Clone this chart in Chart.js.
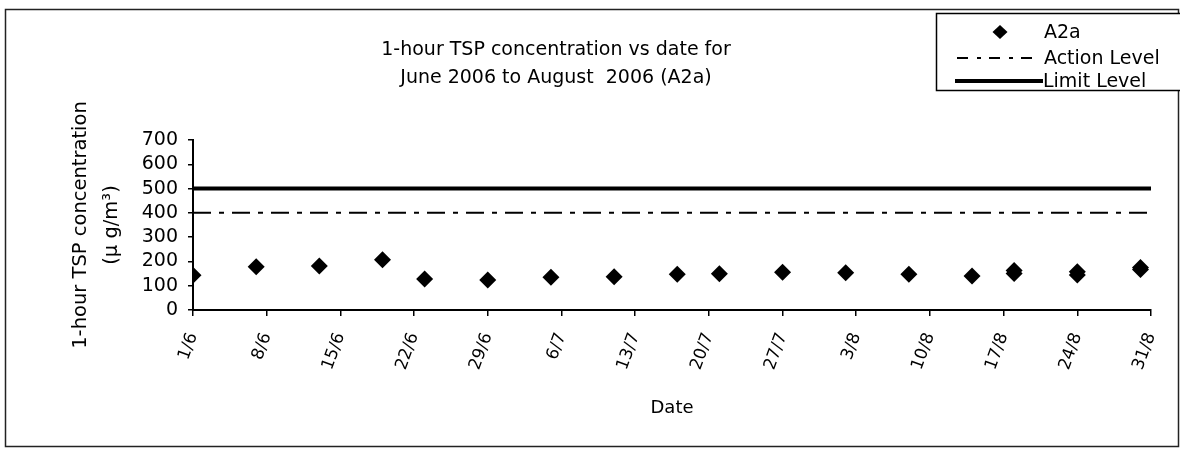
<!DOCTYPE html>
<html><head><meta charset="utf-8">
<script src="https://cdn.jsdelivr.net/npm/chart.js@4.4.0/dist/chart.umd.min.js"></script>
<style>html,body{margin:0;padding:0;background:#fff;} canvas{display:block;}</style>
</head><body>
<canvas id="c" width="1180" height="451"></canvas>
<script>
// ---- data ----
const titleLines = ['1-hour TSP concentration vs date for', 'June 2006 to August  2006 (A2a)'];
const yTitleLines = ['1-hour TSP concentration', '(\u03bc g/m\u00b3)'];
const xTitle = 'Date';
const tickDates = ['1/6','8/6','15/6','22/6','29/6','6/7','13/7','20/7','27/7','3/8','10/8','17/8','24/8','31/8'];
const yMin = 0, yMax = 700, yStep = 100;
const sampleDates = ['1/6','7/6','13/6','19/6','23/6','29/6','5/7','11/7','17/7','21/7','27/7','2/8','8/8','14/8','18/8','18/8','24/8','24/8','30/8','30/8'];
const a2aValues   = [143, 178, 181, 207, 128, 124, 135, 137, 147, 149, 155, 153, 147, 140, 163, 150, 157, 144, 175, 167];
const actionLevel = 400;
const limitLevel = 500;
const levelSpanDates = ['1/6','31/8'];
const seriesNames = ['A2a','Action Level','Limit Level'];

// day number counted from 1 June 2006
function dayIndex(label){
  const [d, m] = label.split('/').map(Number);
  const monthStart = {6: 0, 7: 30, 8: 61};
  return monthStart[m] + d - 1;
}
const tickDays = tickDates.map(dayIndex);

const FONT = 'DejaVu Sans';
const ACTION_DASH = [18, 8, 5, 8];

const a2aData = sampleDates.map((d, i) => ({x: dayIndex(d), y: a2aValues[i]}));
const actionData = levelSpanDates.map(d => ({x: dayIndex(d), y: actionLevel}));
const limitData = levelSpanDates.map(d => ({x: dayIndex(d), y: limitLevel}));

const decor = {
  id: 'decor',
  beforeDraw(chart){
    const ctx = chart.ctx;
    ctx.save();
    ctx.fillStyle = '#fff';
    ctx.fillRect(0, 0, chart.width, chart.height);
    ctx.restore();
  },
  afterDraw(chart){
    const ctx = chart.ctx;
    ctx.save();
    // outer frame
    ctx.strokeStyle = '#222';
    ctx.lineWidth = 1.5;
    ctx.strokeRect(5.5, 9.5, 1173, 437);
    // title
    ctx.fillStyle = '#000';
    ctx.font = '19px "' + FONT + '"';
    ctx.textAlign = 'center';
    ctx.textBaseline = 'alphabetic';
    ctx.fillText(titleLines[0], 556, 55);
    ctx.fillText(titleLines[1], 556, 83);
    // legend
    const lx = 936, ly = 13, lw = 260, lh = 77;
    ctx.fillStyle = '#fff';
    ctx.fillRect(lx, ly, lw, lh);
    ctx.strokeStyle = '#000';
    ctx.lineWidth = 1.5;
    ctx.strokeRect(lx + 0.5, ly + 0.5, lw, lh);
    const ds = chart.data.datasets;
    ctx.fillStyle = '#000';
    ctx.font = '19px "' + FONT + '"';
    ctx.textAlign = 'left';
    ctx.textBaseline = 'middle';
    const r1 = 32, r2 = 58, r3 = 81;
    ctx.beginPath();
    ctx.moveTo(1000 - 7.5, r1); ctx.lineTo(1000, r1 - 7); ctx.lineTo(1000 + 7.5, r1); ctx.lineTo(1000, r1 + 7);
    ctx.closePath(); ctx.fill();
    ctx.fillText(ds[0].label, 1044, r1 + 1);
    ctx.strokeStyle = '#000';
    ctx.lineWidth = 2;
    ctx.setLineDash([11, 9, 4, 8]);
    ctx.beginPath(); ctx.moveTo(957, r2); ctx.lineTo(1040, r2); ctx.stroke();
    ctx.setLineDash([]);
    ctx.fillText(ds[1].label, 1044, r2 + 1);
    ctx.lineWidth = 4;
    ctx.beginPath(); ctx.moveTo(955, r3); ctx.lineTo(1043, r3); ctx.stroke();
    ctx.fillText(ds[2].label, 1043, r3 + 1);
    ctx.restore();
  }
};

new Chart(document.getElementById('c'), {
  type: 'scatter',
  data: {
    datasets: [
      {label: seriesNames[0], data: a2aData, pointStyle: 'rectRot', pointRadius: 8.5, pointHoverRadius: 8.5,
       backgroundColor: '#000', borderColor: '#000', borderWidth: 0, showLine: false},
      {label: seriesNames[1], data: actionData, showLine: true, borderColor: '#000', borderWidth: 2,
       borderDash: ACTION_DASH, pointRadius: 0, fill: false},
      {label: seriesNames[2], data: limitData, showLine: true, borderColor: '#000', borderWidth: 4,
       pointRadius: 0, fill: false}
    ]
  },
  options: {
    responsive: false,
    animation: false,
    devicePixelRatio: 1,
    events: [],
    layout: {padding: {top: 140, right: 29, bottom: 0, left: 0}},
    plugins: {legend: {display: false}, title: {display: false}, tooltip: {enabled: false}},
    scales: {
      x: {
        type: 'linear',
        min: tickDays[0], max: tickDays[tickDays.length - 1],
        afterBuildTicks: s => { s.ticks = tickDays.map(v => ({value: v})); },
        afterFit: s => { s.height = 141; s.paddingLeft = 0; s.paddingRight = 0; },
        ticks: {
          autoSkip: false, minRotation: 70, maxRotation: 70, padding: 14,
          color: '#000', font: {family: FONT, size: 17},
          callback: (v) => { const i = tickDays.indexOf(v); return i >= 0 ? tickDates[i] : ''; }
        },
        grid: {display: true, drawOnChartArea: false, drawTicks: true, tickLength: 6, color: '#000', lineWidth: 1.5},
        border: {display: true, color: '#000', width: 2},
        title: {display: true, text: xTitle, color: '#000', font: {family: FONT, size: 18}, padding: {top: 0, bottom: 32}}
      },
      y: {
        min: yMin, max: yMax,
        afterFit: s => { s.width = 193; s.paddingTop = 0; s.paddingBottom = 0; },
        ticks: {stepSize: yStep, autoSkip: false, padding: 10, color: '#000', font: {family: FONT, size: 19}},
        grid: {display: true, drawOnChartArea: false, drawTicks: true, tickLength: 5, color: '#000', lineWidth: 1.5},
        border: {display: true, color: '#000', width: 2},
        title: {display: true, text: yTitleLines, color: '#000', font: {family: FONT, size: 19.5, lineHeight: 1.62}, padding: {top: 65, bottom: 0}}
      }
    }
  },
  plugins: [decor]
});
</script>
</body></html>
